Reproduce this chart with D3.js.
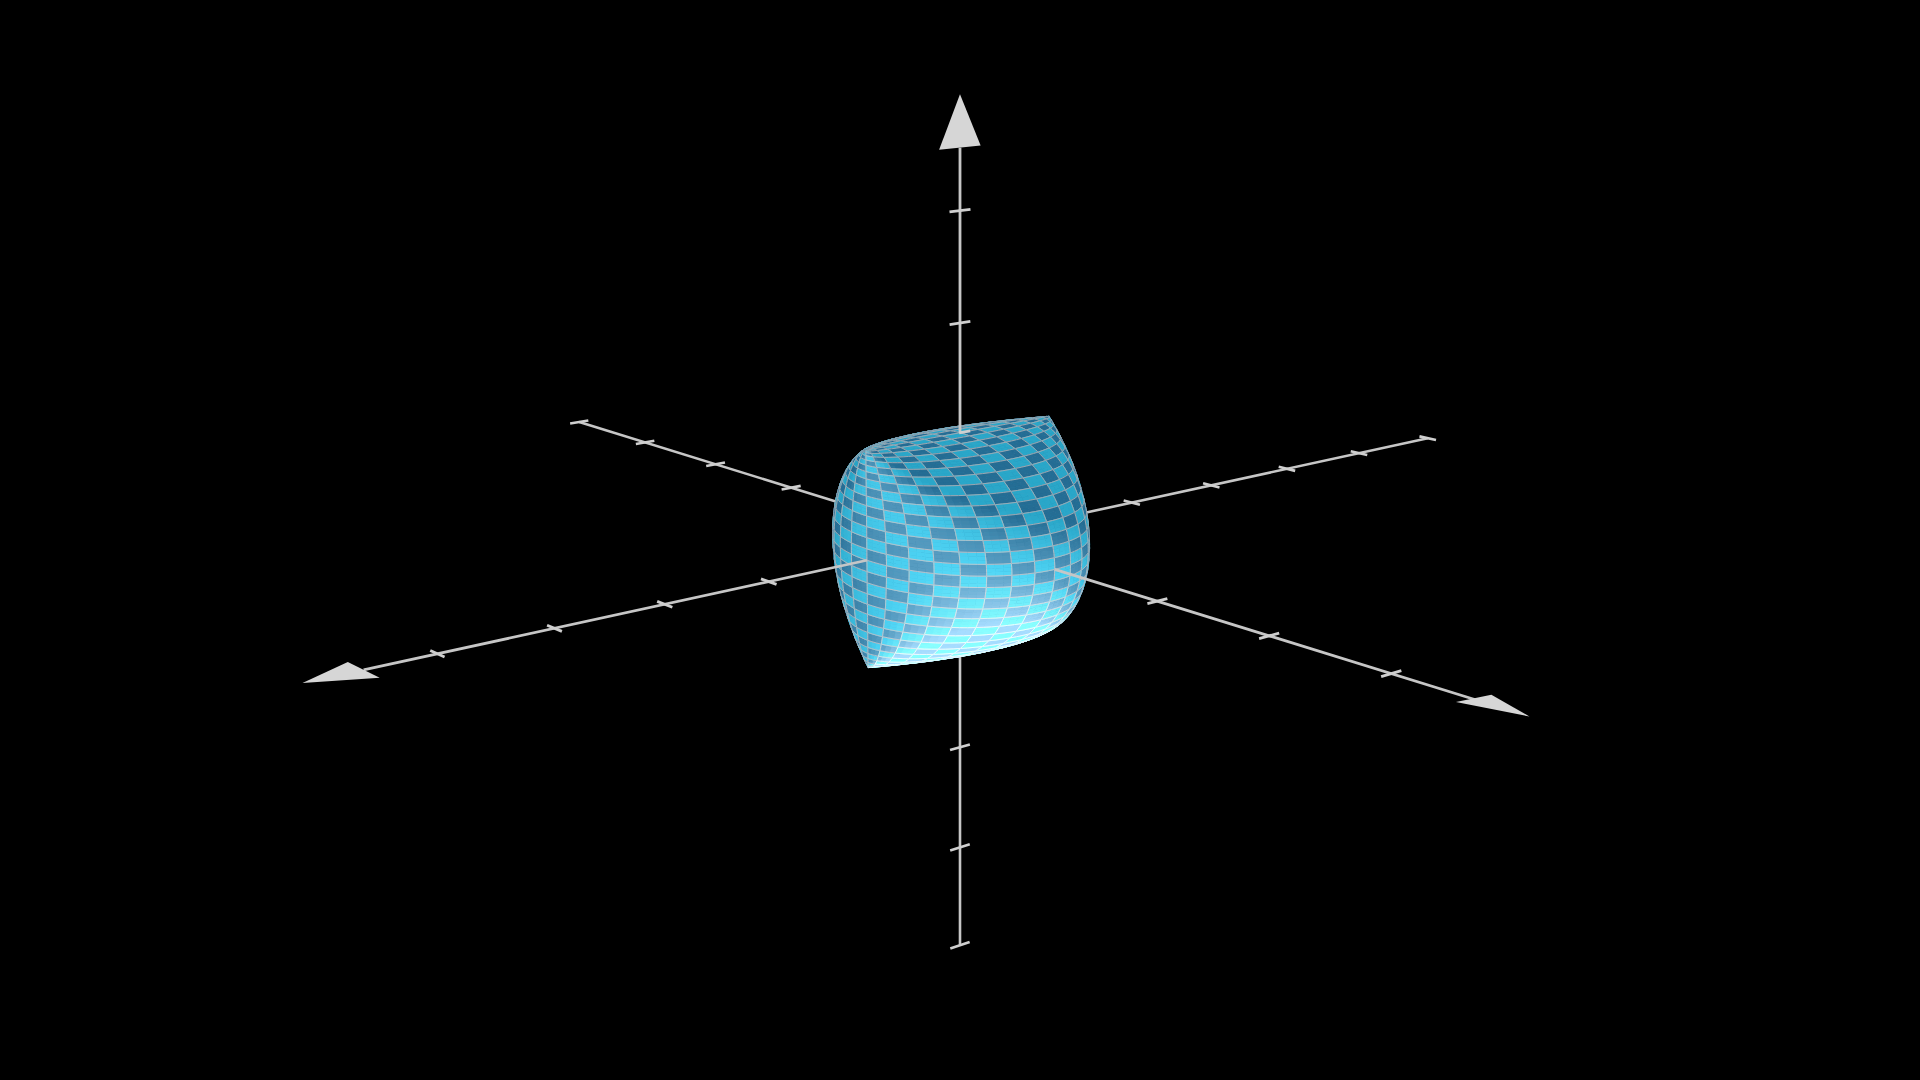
<!DOCTYPE html>
<html><head><meta charset="utf-8">
<style>html,body{margin:0;padding:0;background:#000;overflow:hidden}svg{display:block}</style>
<script src="https://d3js.org/d3.v7.min.js"></script></head>
<body><svg id="c" width="1920" height="1080"></svg>
<script>
const xAxisTicks = [-6,-5,-4,-3,-2,2,3,4,5];
const yAxisTicks = [-5,-4,-3,-2,2,3,4];
const zAxisTicks = [-4,-3,-2,1,2,3];
const xAxisRange = [-6, 5.6, 6.08];
const yAxisRange = [-5, 4.64, 5.03];
const zAxisRange = [-4, 3.55, 4.01];
const arrowHalf = [[0.2,0.2],[0.17,0.21],[0.22,0.22]];
const arrowLift = [0,0.03,0];
const meridianDeg = [0,11.25,22.5,33.75,45,56.25,67.5,78.75,90,101.25,112.5,123.75,135,146.25,157.5,168.75,180,191.25,202.5,213.75,225,236.25,247.5,258.75,270,281.25,292.5,303.75,315,326.25,337.5,348.75,360];
const parallelDeg = [0,6,12,18,24,30,36,42,48,54,60,66,72,78,84,90,96,102,108,114,120,126,132,138,144,150,156,162,168,174,180];
const shadeStops = [0.05,0.53,0.84];
const darkTile  = ["#256d94","#5a9fc4","#a6dcff"];
const lightTile = ["#2aa7c9","#4fd4f5","#88ffff"];
const gridLine  = ["#a0acb4","#bcc8d0","#f4ffff"];
const lightDir = [0.35,0.45,-0.82];
const origin = [960,540];
const unitX = [-90.5,19.7], unitY = [91,28.2], unitZ = [0,-106];
const persp = [-0.02683,-0.039,-0.01154];
const sxx=d3.scaleLinear().domain([0,1]).range([0,unitX[0]]), sxy=d3.scaleLinear().domain([0,1]).range([0,unitX[1]]);
const syx=d3.scaleLinear().domain([0,1]).range([0,unitY[0]]), syy=d3.scaleLinear().domain([0,1]).range([0,unitY[1]]);
const szx=d3.scaleLinear().domain([0,1]).range([0,unitZ[0]]), szy=d3.scaleLinear().domain([0,1]).range([0,unitZ[1]]);
const depth=p=>1+persp[0]*p[0]+persp[1]*p[1]+persp[2]*p[2];
const proj=p=>{const w=depth(p);return [origin[0]+(sxx(p[0])+syx(p[1])+szx(p[2]))/w, origin[1]+(sxy(p[0])+syy(p[1])+szy(p[2]))/w];};
const rad=d=>d*Math.PI/180;
const surf=(u,v)=>[Math.cos(rad(v)),Math.sin(rad(u))*Math.sin(rad(v)),Math.cos(rad(u))];
const line=d3.line();
const ramp=c=>d3.scaleLinear().domain(shadeStops).range(c).interpolate(d3.interpolateRgb).clamp(true);
const darkC=ramp(darkTile), lightC=ramp(lightTile), lineC=ramp(gridLine);
const Ll=Math.hypot(...lightDir);
function shade(u,v){
  const p=surf(u,v);
  let n=[2*p[0]*(1-p[2]*p[2]),2*p[1],2*p[2]*(1-p[0]*p[0])];
  const l=Math.hypot(...n)||1;
  return (n[0]*lightDir[0]+n[1]*lightDir[1]+n[2]*lightDir[2])/(l*Ll);
}
const svg=d3.select("#c");
svg.append("rect").attr("width",1920).attr("height",1080).attr("fill","#000");
const axes=[
 {i:0,range:xAxisRange,ticks:xAxisTicks,td:1,h:0.088},
 {i:1,range:yAxisRange,ticks:yAxisTicks,td:0,h:0.108},
 {i:2,range:zAxisRange,ticks:zAxisTicks,td:0,h:0.112}];
const pt=(i,t,extra)=>{const p=[0,0,0];p[i]=t;if(extra)p[extra[0]]=extra[1];return p;};
function drawAxis(parent,a,from,to,ticks,width){
  const g=parent.append("g");
  g.append("path").attr("d",line([proj(pt(a.i,from)),proj(pt(a.i,to))])).attr("stroke","#c6c6c6").attr("stroke-width",width).attr("fill","none");
  g.selectAll("path.t").data(ticks).join("path").attr("class","t")
   .attr("d",t=>line([proj(pt(a.i,t,[a.td,(a.i===2&&t===1)?0.01:-a.h])),proj(pt(a.i,t,[a.td,(a.i===2&&t===1)?-a.h:a.h]))]))
   .attr("stroke","#cfcfcf").attr("stroke-width",width).attr("fill","none");
}
const back=svg.append("g");
axes.forEach(a=>drawAxis(back,a,a.range[0],-1,a.ticks.filter(t=>t<0),2.6));
const cells=[];
const SUB=3;
for(let i=0;i<parallelDeg.length-1;i++)for(let j=0;j<meridianDeg.length-1;j++){
  const u0=parallelDeg[i],u1=parallelDeg[i+1],v0=meridianDeg[j],v1=meridianDeg[j+1];
  cells.push({i,j,u0,u1,v0,v1,w:depth(surf((u0+u1)/2,(v0+v1)/2))});
}
cells.sort((a,b)=>b.w-a.w);
const surfG=svg.append("g");
cells.forEach(c=>{
  const col=((c.i+c.j)%2===0)?darkC:lightC;
  const g=surfG.append("g");
  const us=d3.range(SUB+1).map(k=>c.u0+(c.u1-c.u0)*k/SUB), vs=d3.range(SUB+1).map(k=>c.v0+(c.v1-c.v0)*k/SUB);
  const facets=[];
  for(let a=0;a<SUB;a++)for(let b=0;b<SUB;b++)facets.push([us[a],us[a+1],vs[b],vs[b+1]]);
  g.selectAll("path").data(facets).join("path")
   .attr("d",f=>line([surf(f[0],f[2]),surf(f[1],f[2]),surf(f[1],f[3]),surf(f[0],f[3])].map(proj))+"Z")
   .attr("fill",f=>col(shade((f[0]+f[1])/2,(f[2]+f[3])/2)))
   .attr("stroke",f=>col(shade((f[0]+f[1])/2,(f[2]+f[3])/2))).attr("stroke-width",0.5);
  const border=[...vs.map(v=>surf(c.u0,v)),...us.slice(1).map(u=>surf(u,c.v1)),...vs.slice(0,-1).reverse().map(v=>surf(c.u1,v)),...us.slice(1,-1).reverse().map(u=>surf(u,c.v0))].map(proj);
  g.append("path").attr("d",line(border)+"Z").attr("fill","none")
   .attr("stroke",lineC(shade((c.u0+c.u1)/2,(c.v0+c.v1)/2))).attr("stroke-width",0.9).attr("stroke-linejoin","round");
});
const front=svg.append("g");
axes.forEach((a,k)=>{
  drawAxis(front,a,1,a.range[1],a.ticks.filter(t=>t>0),2.8);
  const other=pt(a.i,a.range[1],[a.td,-arrowHalf[k][0]]);
  const lifted=pt(a.i,a.range[1],[a.td,arrowHalf[k][1]]);
  lifted[2]+=arrowLift[k];
  const poly=[proj(other),proj(lifted),proj(pt(a.i,a.range[2]))];
  front.append("path").attr("d",line(poly)+"Z").attr("fill","#d6d6d6");
});
</script></body></html>
